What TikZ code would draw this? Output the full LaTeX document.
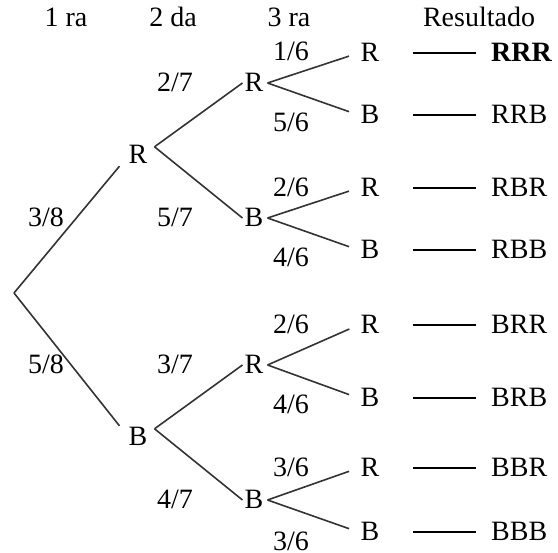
\documentclass[tikz,border=0pt]{standalone}
\usepackage{fontspec}
\setmainfont{Liberation Serif}
\usetikzlibrary{calc}
\begin{document}
\begin{tikzpicture}[x=1pt,y=-1pt,
  every node/.style={font=\fontsize{28}{32}\selectfont, inner sep=2pt, text height=18pt, text depth=0pt},
  br/.style={draw=black!80, line width=1.6pt},
  dashln/.style={draw=black, line width=1.6pt, shorten <=31pt, shorten >=13pt}]
\useasboundingbox (0,0) rectangle (558,553);
% headers
\node (h1) at (66,18) {1 ra};
\node (h2) at (173,18) {2 da};
\node (h3) at (289,18) {3 ra};
\node (h4) at (479,18) {Resultado};
% tree nodes
\coordinate (o) at (14,293);
\node (a1) at (138,155) {R};
\node (a2) at (138,437) {B};
\node (b1) at (254,83) {R};
\node (b2) at (254,218) {B};
\node (b3) at (254,365) {R};
\node (b4) at (254,500) {B};
\node (c1) at (370,53) {R};
\node (c2) at (370,115) {B};
\node (c3) at (370,188) {R};
\node (c4) at (370,250) {B};
\node (c5) at (370,325) {R};
\node (c6) at (370,398) {B};
\node (c7) at (370,468) {R};
\node (c8) at (370,532) {B};
% results
\node[anchor=west] (r1) at (489,53) {\textbf{RRR}};
\node[anchor=west] (r2) at (489,115) {RRB};
\node[anchor=west] (r3) at (489,188) {RBR};
\node[anchor=west] (r4) at (489,250) {RBB};
\node[anchor=west] (r5) at (489,325) {BRR};
\node[anchor=west] (r6) at (489,398) {BRB};
\node[anchor=west] (r7) at (489,468) {BBR};
\node[anchor=west] (r8) at (489,532) {BBB};
% probabilities
\node (p1) at (46,218) {3/8};
\node (p2) at (46,365) {5/8};
\node (q1) at (175,83) {2/7};
\node (q2) at (175,218) {5/7};
\node (q3) at (175,365) {3/7};
\node (q4) at (175,500) {4/7};
\node (s1) at (291,52) {1/6};
\node (s2) at (291,123) {5/6};
\node (s3) at (291,188) {2/6};
\node (s4) at (291,258) {4/6};
\node (s5) at (291,325) {2/6};
\node (s6) at (291,405) {4/6};
\node (s7) at (291,468) {3/6};
\node (s8) at (291,542) {3/6};
% branches
\draw[br] (o) -- ($(a1.south west)+(-7,0)$);
\draw[br] (o) -- ($(a2.north west)+(-7,0)$);
\draw[br] ($(a1.north east)+(5,3)$) -- (b1.west);
\draw[br] ($(a1.north east)+(5,3)$) -- (b2.west);
\draw[br] ($(a2.north east)+(5,3)$) -- (b3.west);
\draw[br] ($(a2.north east)+(5,3)$) -- (b4.west);
\foreach \p/\u/\d in {b1/c1/c2, b2/c3/c4, b3/c5/c6, b4/c7/c8}{
  \draw[br, shorten >=10pt] ($(\p.east)+(2,0)$) -- (\u.west);
  \draw[br, shorten >=10pt] ($(\p.east)+(2,0)$) -- (\d.west);
}
\foreach \i in {1,...,8}{
  \draw[dashln] (c\i.east) -- (r\i.west);
}
\end{tikzpicture}
\end{document}
